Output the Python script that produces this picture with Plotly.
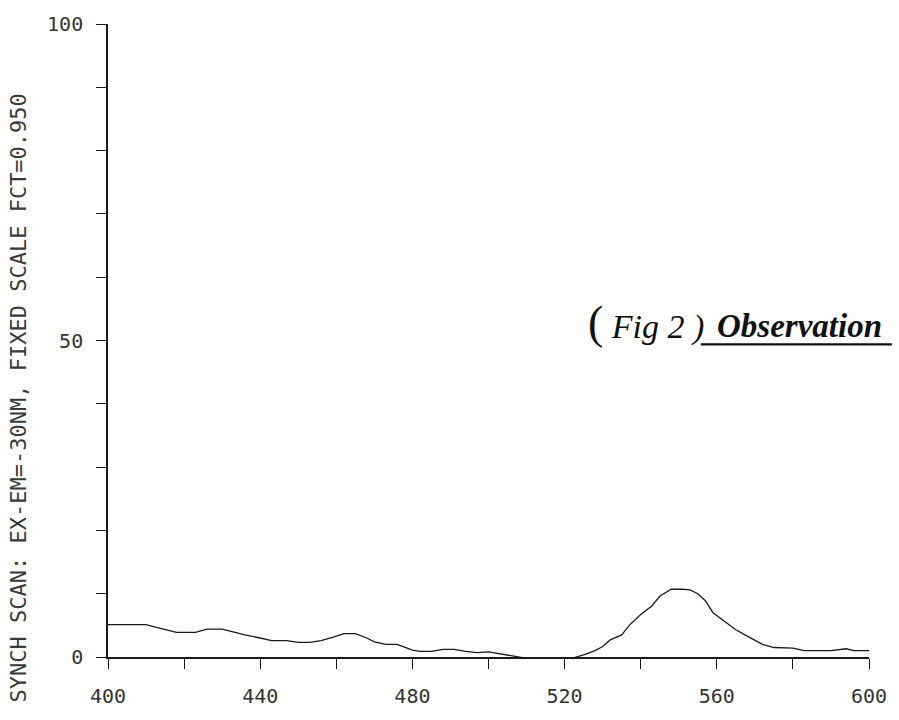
import plotly.graph_objects as go

# Synchronous scan emission trace (wavelength in nm, relative intensity)
wavelength_nm = [400, 410, 414, 418, 423, 426, 430, 433, 436, 440, 443, 447, 450, 453,
                 456, 459, 462, 465, 468, 470, 473, 476, 478, 480, 482, 485, 488, 491,
                 494, 497, 500, 503, 506, 510, 515, 519, 522, 525, 528, 530, 532, 535,
                 537, 540, 543, 545, 548, 551, 553, 555, 557, 559, 562, 565, 568, 572,
                 575, 580, 583, 590, 594, 596, 600]
intensity = [5.1, 5.1, 4.5, 3.9, 3.9, 4.4, 4.4, 3.9, 3.5, 3.0, 2.6, 2.6, 2.3, 2.3,
             2.6, 3.1, 3.7, 3.7, 3.0, 2.4, 2.0, 2.0, 1.5, 1.1, 0.9, 0.9, 1.2, 1.2,
             0.9, 0.7, 0.8, 0.5, 0.15, -0.2, -0.3, -0.3, -0.2, 0.35, 1.0, 1.65, 2.7, 3.5,
             5.0, 6.7, 8.1, 9.6, 10.7, 10.7, 10.6, 10.0, 8.9, 7.0, 5.6, 4.3, 3.3, 2.0,
             1.5, 1.4, 1.0, 1.0, 1.3, 1.0, 1.0]

x_ticks = [400, 440, 480, 520, 560, 600]
y_ticks = [0, 50, 100]

y_title = "SYNCH SCAN: EX-EM=-30NM, FIXED SCALE FCT=0.950"
caption_fig = '<span style="font-size:46px">(</span> <i>Fig 2 )</i>'
caption_obs = '<b><i>Observation</i></b>'

MONO = "DejaVu Sans Mono"
INK = "#1a1a1a"

fig = go.Figure()
fig.add_trace(go.Scatter(
    x=wavelength_nm, y=intensity, mode="lines",
    line=dict(color=INK, width=1.3),
    hoverinfo="skip", showlegend=False,
))

axis_common = dict(
    showgrid=False, zeroline=False, showline=True, linecolor=INK, linewidth=1.6,
    ticks="outside", ticklen=10, tickwidth=1.4, tickcolor=INK,
    tickfont=dict(family=MONO, size=20, color="#333333"),
)

fig.update_xaxes(
    range=[400, 600], tickvals=x_ticks, ticktext=[str(v) for v in x_ticks],
    minor=dict(dtick=20, tick0=400, ticks="outside", ticklen=10, tickwidth=1.4, tickcolor=INK),
    ticklabelstandoff=10,
    **axis_common,
)
fig.update_yaxes(
    range=[0, 100], tickvals=y_ticks, ticktext=[str(v) for v in y_ticks],
    minor=dict(dtick=10, tick0=0, ticks="outside", ticklen=10, tickwidth=1.4, tickcolor=INK),
    ticklabelstandoff=9,
    **axis_common,
)

# Rotated instrument header along the left edge
fig.add_annotation(
    text=y_title, textangle=-90, xref="paper", yref="paper",
    x=-0.117, y=0.41, xanchor="center", yanchor="middle", showarrow=False,
    font=dict(family=MONO, size=22, color="#3a3a3a"),
)

# Figure caption with underlined heading
fig.add_annotation(
    text=caption_fig, xref="paper", yref="paper",
    x=0.628, y=0.529, xanchor="left", yanchor="middle", showarrow=False,
    font=dict(family="Liberation Serif", size=34, color="#111111"),
)
fig.add_annotation(
    text=caption_obs, xref="paper", yref="paper",
    x=0.797, y=0.523, xanchor="left", yanchor="middle", showarrow=False,
    font=dict(family="Liberation Serif", size=33, color="#111111"),
)
fig.add_shape(
    type="line", xref="paper", yref="paper",
    x0=0.779, x1=1.03, y0=0.494, y1=0.494,
    line=dict(color="#111111", width=2.2),
)

fig.update_layout(
    width=899, height=720,
    margin=dict(l=108, r=21, t=22, b=50),
    paper_bgcolor="white", plot_bgcolor="white",
)

fig.write_html("out.html")
